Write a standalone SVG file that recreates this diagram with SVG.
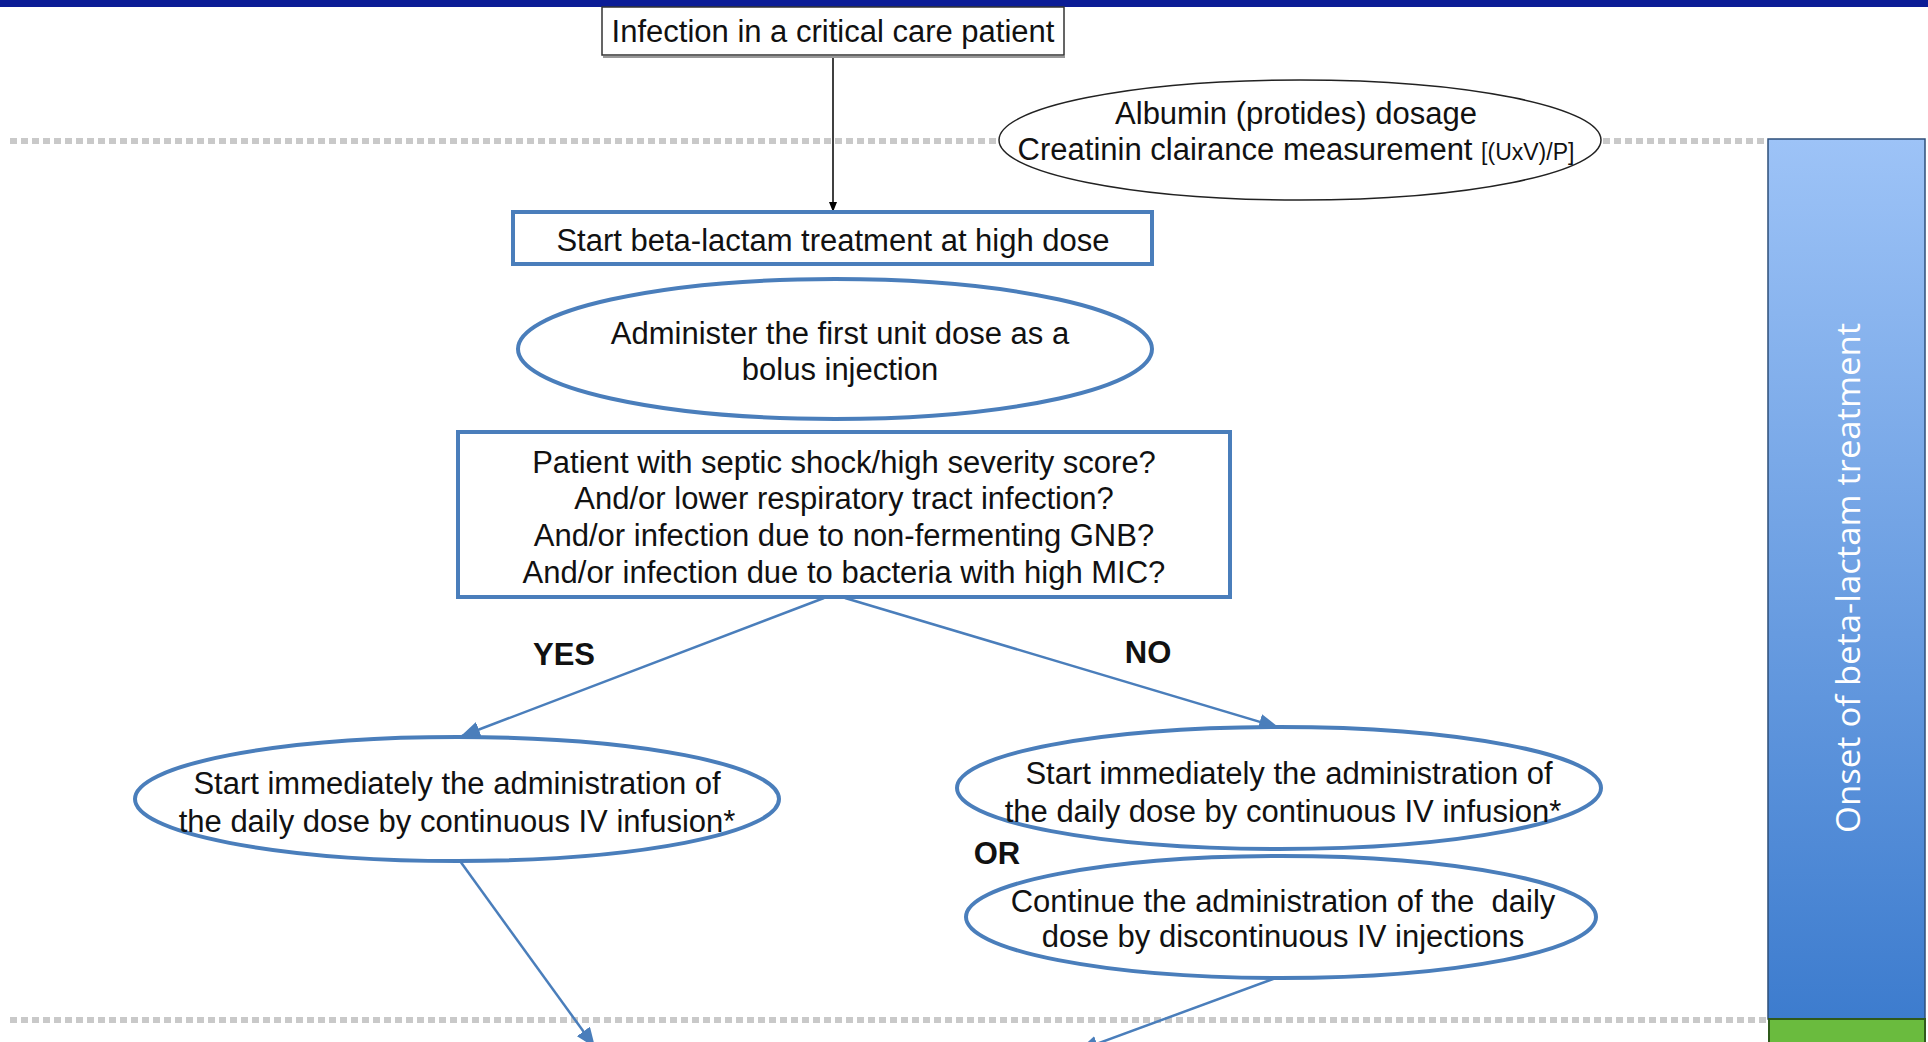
<svg xmlns="http://www.w3.org/2000/svg" width="1928" height="1042" viewBox="0 0 1928 1042">
<style>
.t{font-family:"Liberation Sans",Arial,sans-serif;font-size:31px;fill:#111;text-anchor:middle}
.b{font-weight:bold;font-size:31px}
.blue{fill:#fff;stroke:#4a7ebb;stroke-width:4}
.conn{stroke:#4a7ebb;stroke-width:2.5;fill:none}
.dash{stroke:#c9c9c9;stroke-width:6;stroke-dasharray:7 4;fill:none}
</style>
<defs>
<marker id="ab" markerWidth="10" markerHeight="8" refX="9" refY="4" orient="auto" markerUnits="userSpaceOnUse" viewBox="0 0 10 8">
<path d="M0,0 L10,4 L0,8 z" fill="#000"/>
</marker>
<marker id="au" markerWidth="20" markerHeight="16" refX="18" refY="8" orient="auto" markerUnits="userSpaceOnUse" viewBox="0 0 20 16">
<path d="M0,0 L20,8 L0,16 z" fill="#4a7ebb"/>
</marker>
<linearGradient id="gb" x1="0" y1="0" x2="0" y2="1">
<stop offset="0" stop-color="#9dc3f7"/>
<stop offset="1" stop-color="#3d7cce"/>
</linearGradient>
</defs>
<rect width="1928" height="1042" fill="#fff"/>
<rect x="0" y="0" width="1928" height="7" fill="#0b1c96"/>

<g id="guides">
<line class="dash" x1="10" y1="141" x2="996" y2="141"/>
<line class="dash" x1="1603" y1="141" x2="1766" y2="141"/>
<line class="dash" x1="10" y1="1020" x2="1766" y2="1020"/>
</g>

<g id="connectors">
<line x1="833" y1="56" x2="833" y2="211" stroke="#000" stroke-width="1.5" marker-end="url(#ab)"/>
<line class="conn" x1="824" y1="598" x2="462" y2="736" marker-end="url(#au)"/>
<line class="conn" x1="845" y1="598" x2="1277" y2="727" marker-end="url(#au)"/>
<line class="conn" x1="460" y1="861" x2="594" y2="1046" marker-end="url(#au)"/>
<line class="conn" x1="1284" y1="975" x2="1080" y2="1050" marker-end="url(#au)"/>
</g>

<g id="n-infection">
<rect x="602" y="7" width="462" height="48" fill="#fff" stroke="#333" stroke-width="1.5"/>
<line x1="603" y1="57" x2="1065" y2="57" stroke="#999" stroke-width="2"/>
<text class="t" x="833" y="42">Infection in a critical care patient</text>
</g>

<g id="n-albumin">
<ellipse cx="1300" cy="140" rx="301" ry="60" fill="#fff" stroke="#222" stroke-width="1.5"/>
<text class="t" x="1296" y="124">Albumin (protides) dosage</text>
<text class="t" x="1296" y="160">Creatinin clairance measurement <tspan font-size="23">[(UxV)/P]</tspan></text>
</g>

<g id="n-start">
<rect class="blue" x="513" y="212" width="639" height="52"/>
<text class="t" x="833" y="251">Start beta-lactam treatment at high dose</text>
</g>

<g id="n-bolus">
<ellipse class="blue" cx="835" cy="349" rx="317" ry="70"/>
<text class="t" x="840" y="344">Administer the first unit dose as a</text>
<text class="t" x="840" y="380">bolus injection</text>
</g>

<g id="n-question">
<rect class="blue" x="458" y="432" width="772" height="165"/>
<text class="t" x="844" y="473">Patient with septic shock/high severity score?</text>
<text class="t" x="844" y="509">And/or lower respiratory tract infection?</text>
<text class="t" x="844" y="546">And/or infection due to non-fermenting GNB?</text>
<text class="t" x="844" y="583">And/or infection due to bacteria with high MIC?</text>
</g>

<g id="labels">
<text class="t b" x="564" y="665">YES</text>
<text class="t b" x="1148" y="663">NO</text>
<text class="t b" x="997" y="864">OR</text>
</g>

<g id="n-yes">
<ellipse class="blue" cx="457" cy="799" rx="322" ry="62"/>
<text class="t" x="457" y="794">Start immediately the administration of</text>
<text class="t" x="457" y="832">the daily dose by continuous IV infusion*</text>
</g>

<g id="n-no1">
<ellipse class="blue" cx="1279" cy="788" rx="322" ry="61"/>
<text class="t" x="1289" y="784">Start immediately the administration of</text>
<text class="t" x="1283" y="822">the daily dose by continuous IV infusion*</text>
</g>

<g id="n-no2">
<ellipse class="blue" cx="1281" cy="917" rx="315" ry="61"/>
<text class="t" x="1283" y="912" xml:space="preserve">Continue the administration of the  daily</text>
<text class="t" x="1283" y="947">dose by discontinuous IV injections</text>
</g>

<g id="n-onset">
<rect x="1768" y="139" width="157" height="880" fill="url(#gb)" stroke="#2e4f7a" stroke-width="1.5"/>
<text x="1860" y="578" transform="rotate(-90 1860 578)" font-family="'Open Sans',sans-serif" font-size="33" fill="#fff" text-anchor="middle" textLength="510" lengthAdjust="spacingAndGlyphs">Onset of beta-lactam treatment</text>
</g>
<g id="n-green">
<rect x="1769" y="1019" width="156" height="30" fill="#6abb3e" stroke="#2f5a1a" stroke-width="2"/>
</g>
</svg>
